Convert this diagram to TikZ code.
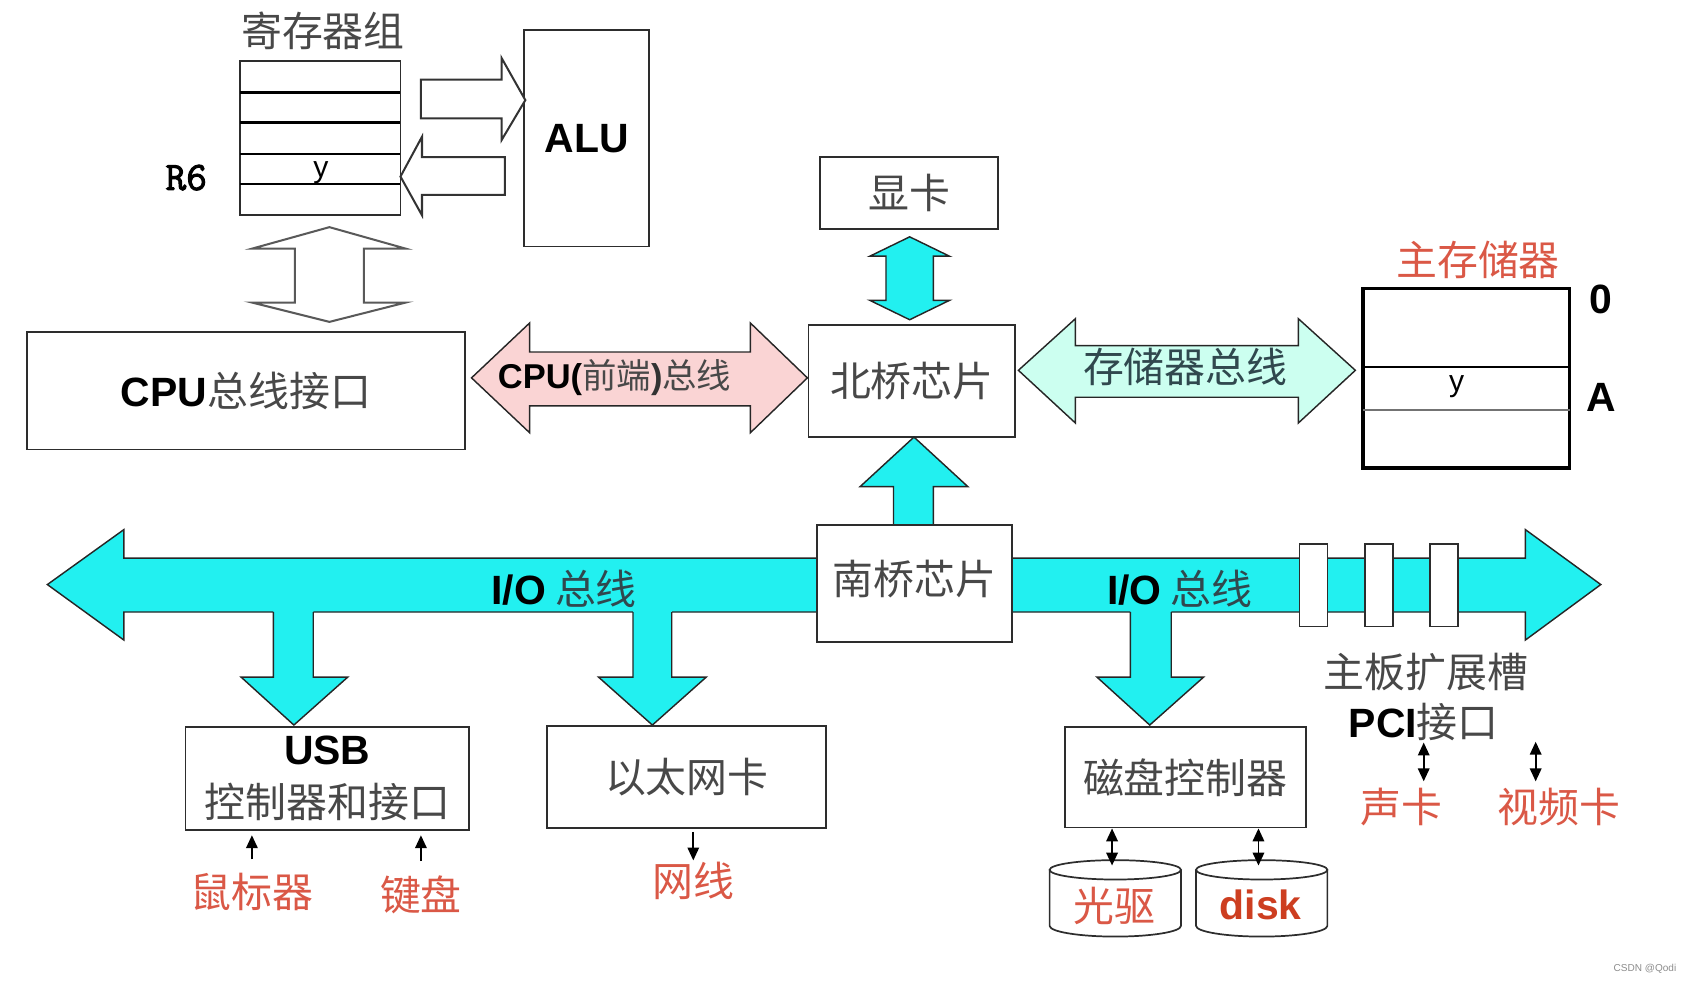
\documentclass[tikz,border=0pt]{standalone}
\usepackage{fontspec}
\setmainfont{Liberation Sans}
\newfontfamily\cjk{Noto Sans CJK SC}
\newfontfamily\monob[FakeBold=2.5]{Latin Modern Mono}
\usetikzlibrary{arrows.meta}

\definecolor{buscyan}{RGB}{34,240,240}
\definecolor{fsbpink}{RGB}{250,212,212}
\definecolor{membus}{RGB}{204,255,240}
\definecolor{txtgray}{RGB}{72,72,72}
\definecolor{txtteal}{RGB}{48,72,78}
\definecolor{redtxt}{RGB}{218,88,70}
\definecolor{diskred}{RGB}{205,62,32}
\definecolor{boxline}{RGB}{45,45,45}

\tikzset{
  zh/.style={inner sep=0.75pt, text=txtgray, font=\cjk\fontsize{28.5}{34}\selectfont},
  zhred/.style={zh, text=redtxt},
  en/.style={inner sep=0.75pt, text=black, font=\bfseries\fontsize{28.5}{34}\selectfont},
  box/.style={draw=boxline, line width=1.3pt, fill=white},
  hollow/.style={draw=black!80, line width=1.4pt, fill=white},
  busline/.style={draw=black!85, line width=1pt},
  slot/.style={box, line width=1pt, inner sep=0pt, minimum width=19.5pt, minimum height=57.5pt},
  sarr/.style={-{Triangle[length=9pt,width=8pt]}, line width=1.3pt},
  darr/.style={{Triangle[length=9pt,width=8pt]}-{Triangle[length=9pt,width=8pt]}, line width=1.3pt},
}

\begin{document}
\begin{tikzpicture}[x=0.75pt,y=0.75pt,yscale=-1,xscale=1]
\useasboundingbox (0,0) rectangle (1568,913);

%Shape: Register file
\draw [draw=boxline, line width=1.3pt] (223,57) rectangle (372,200) ;
\draw [line width=1.9pt] (223,86) -- (372,86) ;
\draw [line width=1.9pt] (223,114) -- (372,114) ;
\draw [line width=1.9pt] (223,143) -- (372,143) ;
\draw [line width=1.9pt] (223,171) -- (372,171) ;
% Text Node
\draw (300,29) node [zh] (regname) {寄存器组};
% Text Node
\draw (173,165) node [inner sep=0.75pt, font=\monob\fontsize{28}{32}\selectfont] (rsix) {R6};
% Text Node
\draw (298,160) node [inner sep=0.75pt, font=\fontsize{21}{24}\selectfont] (regy) {y};

%Shape: Rectangle
\draw (545,128.5) node [en, box, minimum width=87pt, minimum height=150.75pt] (alu) {ALU};
%Shape: Right Arrow
\draw [hollow] (391,74) -- (466,74) -- (466,54) -- (488,93) -- (466,130) -- (466,110) -- (391,110) -- cycle ;
%Shape: Left Arrow
\draw [hollow] (469,146) -- (392,146) -- (392,127) -- (372,164) -- (392,200) -- (392,181) -- (469,181) -- cycle ;
%Shape: Up Down Arrow
\draw [hollow, draw=black!65] (306,211) -- (377,231) -- (338,231) -- (338,281) -- (377,281) -- (306,299) -- (234,281) -- (274,281) -- (274,231) -- (234,231) -- cycle ;

%Shape: Rectangle
\draw (228.5,363) node [zh, box, minimum width=305.25pt, minimum height=81.75pt] (cpuif) {{\normalfont\bfseries\color{black}CPU}总线接口};

%Shape: Left Right Arrow
\draw [busline, fill=fsbpink] (438,351) -- (492,300) -- (492,327) -- (697,327) -- (697,300) -- (750,351) -- (697,402) -- (697,377) -- (492,377) -- (492,402) -- cycle ;
% Text Node
\draw (571,351) node [zh, font=\cjk\fontsize{24}{28}\selectfont] (fsblbl) {{\normalfont\bfseries\color{black}CPU(}前端{\normalfont\bfseries\color{black!80})}总线};

%Shape: Rectangle
\draw (844.5,179.5) node [zh, box, minimum width=123.75pt, minimum height=50.25pt] (gpu) {显卡};
%Shape: Up Down Arrow
\draw [busline, fill=buscyan] (845,220) -- (882,238) -- (867,238) -- (867,279) -- (882,279) -- (845,297) -- (808,279) -- (823,279) -- (823,238) -- (808,238) -- cycle ;

%Shape: Rectangle
\draw (847,354) node [zh, box, minimum width=144pt, minimum height=78pt] (nb) {北桥芯片};

%Shape: Left Right Arrow
\draw [busline, fill=membus] (946,344) -- (999,296) -- (999,321) -- (1206,321) -- (1206,296) -- (1259,344) -- (1206,393) -- (1206,369) -- (999,369) -- (999,393) -- cycle ;
% Text Node
\draw (1101,341) node [zh, text=txtteal] (membuslbl) {存储器总线};

%Shape: Rectangle
\draw (1362,351.5) node [box, draw=black, line width=2.6pt, minimum width=144pt, minimum height=125.25pt] (mem) {};
\draw [line width=1.8pt] (1266,341) -- (1458,341) ;
\draw [line width=1.8pt, draw=black!55] (1266,381) -- (1458,381) ;
% Text Node
\draw (1373,241) node [zhred] (memname) {主存储器};
% Text Node
\draw (1353,359) node [inner sep=0.75pt, font=\fontsize{21}{24}\selectfont] (memy) {y};
% Text Node
\draw (1487,278) node [en] (memzero) {0};
% Text Node
\draw (1487,369) node [en] (memaddr) {A};

%Shape: Left Right Arrow
\draw [busline, fill=buscyan] (44,543) -- (115,492) -- (115,518.5) -- (1417,518.5) -- (1417,492) -- (1487,543) -- (1417,594.5) -- (1417,568.5) -- (115,568.5) -- (115,594.5) -- cycle ;
%Shape: Down Arrow
\fill [buscyan] (254,566) -- (254,629) -- (224,629) -- (273,673.5) -- (323,629) -- (291,629) -- (291,566) -- cycle ;
\draw [busline] (254,568.5) -- (254,629) -- (224,629) -- (273,673.5) -- (323,629) -- (291,629) -- (291,568.5) ;
%Shape: Down Arrow
\fill [buscyan] (588,566) -- (588,629) -- (556,629) -- (606,673.5) -- (656,629) -- (624,629) -- (624,566) -- cycle ;
\draw [busline] (588,568.5) -- (588,629) -- (556,629) -- (606,673.5) -- (656,629) -- (624,629) -- (624,568.5) ;
%Shape: Down Arrow
\fill [buscyan] (1050,566) -- (1050,629) -- (1019,629) -- (1068,673.5) -- (1118,629) -- (1088,629) -- (1088,566) -- cycle ;
\draw [busline] (1050,568.5) -- (1050,629) -- (1019,629) -- (1068,673.5) -- (1118,629) -- (1088,629) -- (1088,568.5) ;
%Shape: Up Arrow
\draw [busline, fill=buscyan] (830,490) -- (830,452) -- (799,452) -- (849,406) -- (899,452) -- (867,452) -- (867,490) -- cycle ;

%Shape: Rectangle
\draw (849.5,542) node [zh, box, minimum width=135.75pt, minimum height=81.75pt, text depth=9pt] (sb) {南桥芯片};
% Text Node
\draw (524,547) node [zh, text=txtteal] (iolblw) {{\normalfont\bfseries\color{black}I/O} 总线};
% Text Node
\draw (1096,547) node [zh, text=txtteal] (iolble) {{\normalfont\bfseries\color{black}I/O} 总线};
%Shape: Slots
\draw (1220.2,543.6) node [slot] (slota) {};
\draw (1281,543.6) node [slot] (slotb) {};
\draw (1341.5,543.6) node [slot] (slotc) {};
% Text Node
\draw (1324.5,624) node [zh] (slotlbl) {主板扩展槽};
% Text Node
\draw (1322.5,671) node [zh] (pci) {{\normalfont\bfseries\color{black}PCI}接口};
% Text Node
\draw (1301.5,750) node [zhred] (sound) {声卡};
% Text Node
\draw (1448,750) node [zhred] (video) {视频卡};
\coordinate (vtop) at (1426.5,689);
\draw [darr, shorten >=4pt] (pci.south) -- (pci.south |- sound.north) ;
\draw [darr, shorten >=4pt] (vtop) -- (vtop |- video.north) ;

%Shape: Rectangle
\draw (304,723) node [zh, box, align=center, minimum width=197.6pt, minimum height=72pt] (usb) {{\normalfont\bfseries\color{black}USB}\\[3pt]控制器和接口};
%Shape: Rectangle
\draw (638,722) node [zh, box, minimum width=194.25pt, minimum height=70.9pt] (eth) {以太网卡};
%Shape: Rectangle
\draw (1101,722) node [zh, box, minimum width=168pt, minimum height=70pt] (dc) {磁盘控制器};

% Text Node
\draw (234,829) node [zhred] (mouse) {鼠标器};
% Text Node
\draw (391,831) node [zhred] (kbd) {键盘};
% Text Node
\draw (644,818) node [zhred] (netw) {网线};
\draw [sarr, shorten <=9pt, shorten >=3pt] (mouse.north) -- (mouse.north |- usb.south) ;
\draw [sarr, shorten <=9pt, shorten >=3pt] (kbd.north) -- (kbd.north |- usb.south) ;
\draw [sarr, shorten <=2pt] (netw.north |- eth.south) -- (netw.north) ;

%Shape: Can
\draw [draw=boxline, line width=1.2pt, fill=white] (975,808) -- (975,860) arc [start angle=180, end angle=0, x radius=61, y radius=10] -- (1097,808) ;
\draw [draw=boxline, line width=1.2pt, fill=white] (1036,808) ellipse [x radius=61, y radius=9] ;
%Shape: Can
\draw [draw=boxline, line width=1.2pt, fill=white] (1111,808) -- (1111,860) arc [start angle=180, end angle=0, x radius=61, y radius=10] -- (1233,808) ;
\draw [draw=boxline, line width=1.2pt, fill=white] (1172,808) ellipse [x radius=61, y radius=9] ;
\coordinate (odtop) at (1033,804);
\coordinate (hdtop) at (1169,804);
\draw [darr] (odtop |- dc.south) -- (odtop) ;
\draw [darr] (hdtop |- dc.south) -- (hdtop) ;
% Text Node
\draw (1035,842) node [zhred] (odlbl) {光驱};
% Text Node
\draw (1171,841) node [en, text=diskred] (disklbl) {disk};

% Text Node
\draw (1528,900) node [inner sep=0.75pt, text=black!45, font=\fontsize{7}{8}\selectfont] (wmark) {CSDN @Qodi};

\end{tikzpicture}
\end{document}
